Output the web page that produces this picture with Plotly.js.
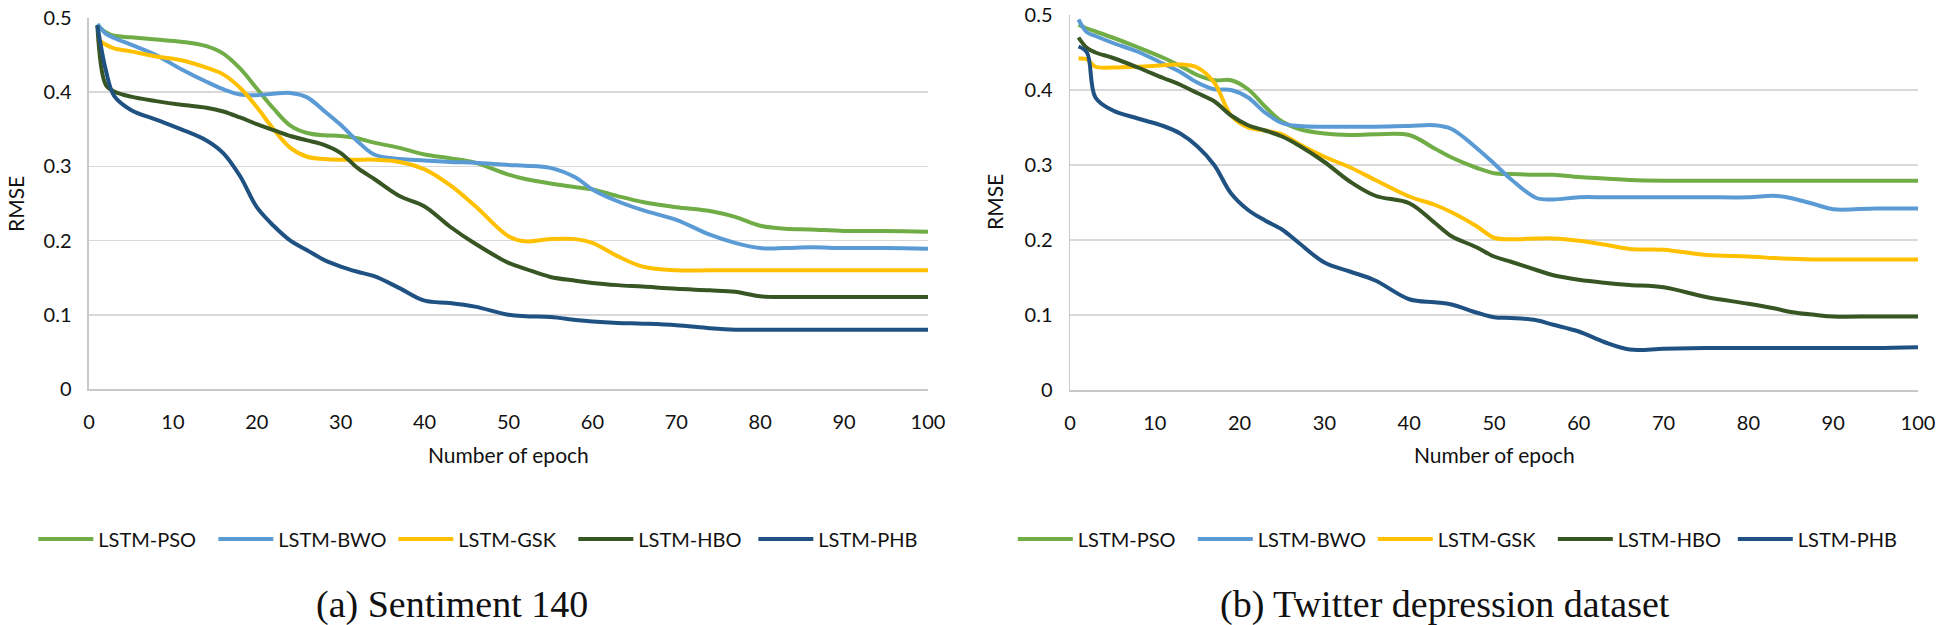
<!DOCTYPE html>
<html>
<head>
<meta charset="utf-8">
<script src="https://cdn.plot.ly/plotly-3.0.1.min.js"></script>
<style>
html,body{margin:0;padding:0;background:#fff;}
#chart{width:1938px;height:625px;}
</style>
</head>
<body>
<div id="chart"></div>
<script>
// ---- Data ----
const seriesNames = ["LSTM-PSO", "LSTM-BWO", "LSTM-GSK", "LSTM-HBO", "LSTM-PHB"];
const xTicks = [0, 10, 20, 30, 40, 50, 60, 70, 80, 90, 100];
const yTicks = [0, 0.1, 0.2, 0.3, 0.4, 0.5];
const yTickLabels = ["0", "0.1", "0.2", "0.3", "0.4", "0.5"];

// (a) Sentiment 140
const epochsA = [1,2,3,5,8,11,14,16,18,20,22,24,26,28,30,32,34,37,40,43,46,50,52,55,58,60,63,66,70,74,77,80,83,86,90,95,100];
const psoA = [0.490,0.481,0.476,0.474,0.471,0.468,0.462,0.452,0.432,0.405,0.378,0.355,0.345,0.342,0.341,0.338,0.332,0.325,0.316,0.311,0.305,0.289,0.283,0.277,0.272,0.269,0.260,0.252,0.245,0.240,0.232,0.220,0.216,0.215,0.213,0.213,0.212];
const bwoA = [0.492,0.479,0.473,0.464,0.450,0.431,0.414,0.404,0.397,0.396,0.398,0.399,0.393,0.375,0.356,0.334,0.316,0.310,0.308,0.306,0.305,0.302,0.301,0.298,0.285,0.269,0.253,0.241,0.228,0.208,0.197,0.190,0.190,0.191,0.190,0.190,0.189];
const gskA = [0.471,0.464,0.459,0.455,0.448,0.443,0.433,0.424,0.406,0.380,0.350,0.325,0.313,0.310,0.309,0.309,0.309,0.306,0.296,0.275,0.247,0.206,0.199,0.202,0.202,0.197,0.179,0.165,0.160,0.160,0.160,0.160,0.160,0.160,0.160,0.160,0.160];
const hboA = [0.490,0.410,0.401,0.394,0.388,0.383,0.379,0.374,0.366,0.357,0.349,0.341,0.335,0.329,0.318,0.298,0.283,0.260,0.246,0.219,0.196,0.170,0.162,0.151,0.146,0.143,0.140,0.138,0.135,0.133,0.131,0.125,0.124,0.124,0.124,0.124,0.124];
const phbA = [0.490,0.430,0.395,0.376,0.363,0.350,0.335,0.318,0.287,0.245,0.220,0.200,0.187,0.174,0.165,0.158,0.152,0.136,0.119,0.116,0.111,0.100,0.098,0.097,0.093,0.091,0.089,0.088,0.086,0.082,0.080,0.080,0.080,0.080,0.080,0.080,0.080];

// (b) Twitter depression dataset
const epochsB = [1,2,3,5,8,11,13,15,17,19,21,23,25,27,30,33,36,40,43,45,48,50,52,55,57,60,63,66,70,75,80,83,85,88,90,95,100];
const psoB = [0.487,0.482,0.478,0.470,0.457,0.443,0.432,0.420,0.413,0.413,0.401,0.378,0.358,0.348,0.342,0.340,0.341,0.340,0.322,0.310,0.296,0.289,0.288,0.287,0.287,0.284,0.282,0.280,0.279,0.279,0.279,0.279,0.279,0.279,0.279,0.279,0.279];
const bwoB = [0.494,0.477,0.472,0.463,0.451,0.435,0.424,0.410,0.401,0.400,0.390,0.370,0.356,0.352,0.351,0.351,0.351,0.352,0.353,0.348,0.322,0.302,0.281,0.256,0.254,0.257,0.257,0.257,0.257,0.257,0.257,0.259,0.256,0.247,0.241,0.242,0.242];
const gskB = [0.442,0.441,0.431,0.430,0.431,0.433,0.434,0.430,0.410,0.366,0.350,0.346,0.341,0.328,0.311,0.297,0.280,0.258,0.247,0.237,0.218,0.203,0.201,0.202,0.202,0.199,0.194,0.188,0.187,0.180,0.178,0.176,0.175,0.174,0.174,0.174,0.174];
const hboB = [0.470,0.456,0.450,0.443,0.430,0.416,0.407,0.396,0.385,0.366,0.353,0.346,0.338,0.326,0.304,0.278,0.259,0.249,0.223,0.205,0.190,0.178,0.171,0.160,0.153,0.147,0.143,0.140,0.137,0.124,0.115,0.109,0.104,0.100,0.098,0.098,0.098];
const phbB = [0.458,0.450,0.390,0.373,0.362,0.352,0.342,0.325,0.300,0.262,0.240,0.226,0.214,0.196,0.170,0.158,0.146,0.121,0.117,0.114,0.103,0.097,0.096,0.093,0.087,0.078,0.064,0.054,0.055,0.056,0.056,0.056,0.056,0.056,0.056,0.056,0.057];

// ---- Styling ----
const colors = ["#70AD47", "#5B9BD5", "#FFC000", "#375623", "#1F5283"];
const tickFont = {family: "Lato, 'Open Sans', sans-serif", size: 20, color: "#111"};
const titleFont = {family: "Lato, 'Open Sans', sans-serif", size: 21, color: "#111"};
const captionFont = {family: "'Liberation Serif', 'DejaVu Serif', serif", size: 38, color: "#111"};

const seriesA = [psoA, bwoA, gskA, hboA, phbA];
const seriesB = [psoB, bwoB, gskB, hboB, phbB];

const traces = [];
seriesA.forEach((vals, i) => traces.push({
  type: "scatter", mode: "lines", name: seriesNames[i], x: epochsA, y: vals,
  xaxis: "x", yaxis: "y", legend: "legend", cliponaxis: false,
  line: {color: colors[i], width: 4, shape: "spline", smoothing: 1}
}));
seriesB.forEach((vals, i) => traces.push({
  type: "scatter", mode: "lines", name: seriesNames[i], x: epochsB, y: vals,
  xaxis: "x2", yaxis: "y2", legend: "legend2", cliponaxis: false,
  line: {color: colors[i], width: 4, shape: "spline", smoothing: 1}
}));

function xAxis(domain, anchor) {
  return {
    domain: domain, anchor: anchor, range: [0, 100], tickvals: xTicks,
    showgrid: false, zeroline: false, showline: true, linecolor: "#c8c8c8", linewidth: 2,
    ticks: "", ticklabelstandoff: 14, tickfont: tickFont, fixedrange: true
  };
}
function yAxis(domain, anchor) {
  return {
    domain: domain, anchor: anchor, range: [0, 0.5], tickvals: yTicks, ticktext: yTickLabels,
    showgrid: true, gridcolor: "#d9d9d9", gridwidth: 1.5, zeroline: false,
    showline: true, linecolor: "#c8c8c8", linewidth: 1.5,
    ticks: "", ticklabelstandoff: 12, tickfont: tickFont, fixedrange: true
  };
}
const legendBase = {
  orientation: "h", xanchor: "left", yanchor: "middle", y: 0.1376,
  font: {family: "Lato, 'Open Sans', sans-serif", size: 20, color: "#111"},
  itemwidth: 55, entrywidth: 110, bgcolor: "rgba(0,0,0,0)", borderwidth: 0, traceorder: "normal"
};

const layout = {
  width: 1938, height: 625,
  margin: {l: 0, r: 0, t: 0, b: 0},
  paper_bgcolor: "#ffffff", plot_bgcolor: "#ffffff",
  showlegend: true,
  xaxis: xAxis([0.04592, 0.47884], "y"),
  yaxis: yAxis([0.3776, 0.9712], "x"),
  xaxis2: xAxis([0.55212, 0.98968], "y2"),
  yaxis2: yAxis([0.376, 0.976], "x2"),
  legend: Object.assign({}, legendBase, {x: 0.0172}),
  legend2: Object.assign({}, legendBase, {x: 0.5226}),
  annotations: [
    {text: "RMSE", xref: "paper", yref: "paper", x: 15/1938, y: 1-204/625, textangle: -90, showarrow: false, font: titleFont, xanchor: "center", yanchor: "middle"},
    {text: "RMSE", xref: "paper", yref: "paper", x: 995/1938, y: 1-202/625, textangle: -90, showarrow: false, font: titleFont, xanchor: "center", yanchor: "middle"},
    {text: "Number of epoch", xref: "paper", yref: "paper", x: 508/1938, y: 1-454/625, showarrow: false, font: titleFont, xanchor: "center", yanchor: "middle"},
    {text: "Number of epoch", xref: "paper", yref: "paper", x: 1494/1938, y: 1-454/625, showarrow: false, font: titleFont, xanchor: "center", yanchor: "middle"},
    {text: "(a) Sentiment 140", xref: "paper", yref: "paper", x: 452/1938, y: 1-604/625, showarrow: false, font: captionFont, xanchor: "center", yanchor: "middle"},
    {text: "(b) Twitter depression dataset", xref: "paper", yref: "paper", x: 1445/1938, y: 1-604/625, showarrow: false, font: captionFont, xanchor: "center", yanchor: "middle"}
  ]
};

Plotly.newPlot("chart", traces, layout, {displayModeBar: false, staticPlot: true});
</script>
</body>
</html>
